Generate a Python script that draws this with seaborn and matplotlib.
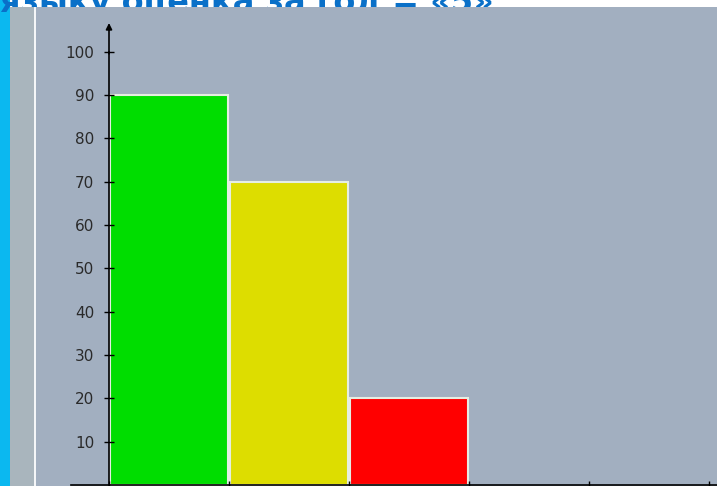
import matplotlib
matplotlib.use("Agg")
import matplotlib.pyplot as plt
import seaborn as sns
import pandas as pd
from matplotlib.patches import Rectangle

categories = ["5", "4", "3"]
values = [90, 70, 20]
bar_colors = ["#00DD00", "#DDDD00", "#FF0000"]
y_ticks = [10, 20, 30, 40, 50, 60, 70, 80, 90, 100]
title_text = "языку оценка за год = «5»"

sns.set_theme(style="white")
plt.rcParams['font.family'] = ['DejaVu Sans']

W, H = 717, 486
fig = plt.figure(figsize=(W / 100, H / 100), dpi=100, facecolor="white")

# decorative side strips (slide background)
fig.patches.append(Rectangle((0, 0), 10 / W, 1, transform=fig.transFigure,
                             facecolor="#0BB8F0", edgecolor="none", zorder=-2))
fig.patches.append(Rectangle((10 / W, 0), 24 / W, (H - 7) / H, transform=fig.transFigure,
                             facecolor="#A9B5BD", edgecolor="none", zorder=1))
fig.patches.append(Rectangle((34 / W, 0), 2 / W, (H - 7) / H, transform=fig.transFigure,
                             facecolor="#F4F6F8", edgecolor="none", zorder=1))

# clipped title text behind the chart panel
fig.text(0 / W, 1 - 12 / H, title_text, fontsize=23, fontweight="bold",
         color="#0A70C8", ha="left", va="baseline", zorder=-1)

ax = fig.add_axes([36 / W, 0, (W - 36) / W, (H - 7) / H])
ax.set_zorder(2)
ax.set_facecolor("#A2AFC0")

df = pd.DataFrame({"cat": categories, "val": values})
sns.barplot(data=df, x="cat", y="val", hue="cat", palette=bar_colors,
            width=0.985, legend=False, ax=ax, edgecolor="#E6EEE2", linewidth=1.5,
            saturation=1)
ax.set_axisbelow(False)

px = 120.0
ax.set_xlim(-0.5 - (109 - 36) / px, -0.5 + (717 - 109) / px)
upx = 43.333 / 10
ax.set_ylim(-(486 - 485) / upx, (485 - 7) / upx)

for s in ["top", "right"]:
    ax.spines[s].set_visible(False)
ax.spines["left"].set_position(("data", -0.5))
ax.spines["left"].set_bounds(0, 100)
ax.spines["bottom"].set_position(("data", 0))
ax.spines["bottom"].set_bounds(-0.5 - 38 / px, 4.567)
for s in ["left", "bottom"]:
    ax.spines[s].set_color("black")
    ax.spines[s].set_linewidth(1.2)
    ax.spines[s].set_zorder(5)

ax.annotate("", xy=(-0.5, (485 - 23) / upx), xytext=(-0.5, 99.5),
            arrowprops=dict(arrowstyle="-|>", color="black", lw=1.2,
                            mutation_scale=9, shrinkA=0, shrinkB=0))

ax.set_yticks(y_ticks)
ax.set_yticklabels([str(v) for v in y_ticks], fontsize=11, color="#2A2A2A")
ax.tick_params(axis="y", direction="inout", length=7, width=1, pad=7, colors="black",
               labelcolor="#2A2A2A", left=True)
ax.set_xticks([-0.5 + i for i in range(6)])
ax.set_xticklabels([])
ax.tick_params(axis="x", direction="inout", length=6, width=1, bottom=True, colors="black")
ax.set_xlabel("")
ax.set_ylabel("")

fig.savefig("out.png", dpi=100, facecolor="white")
